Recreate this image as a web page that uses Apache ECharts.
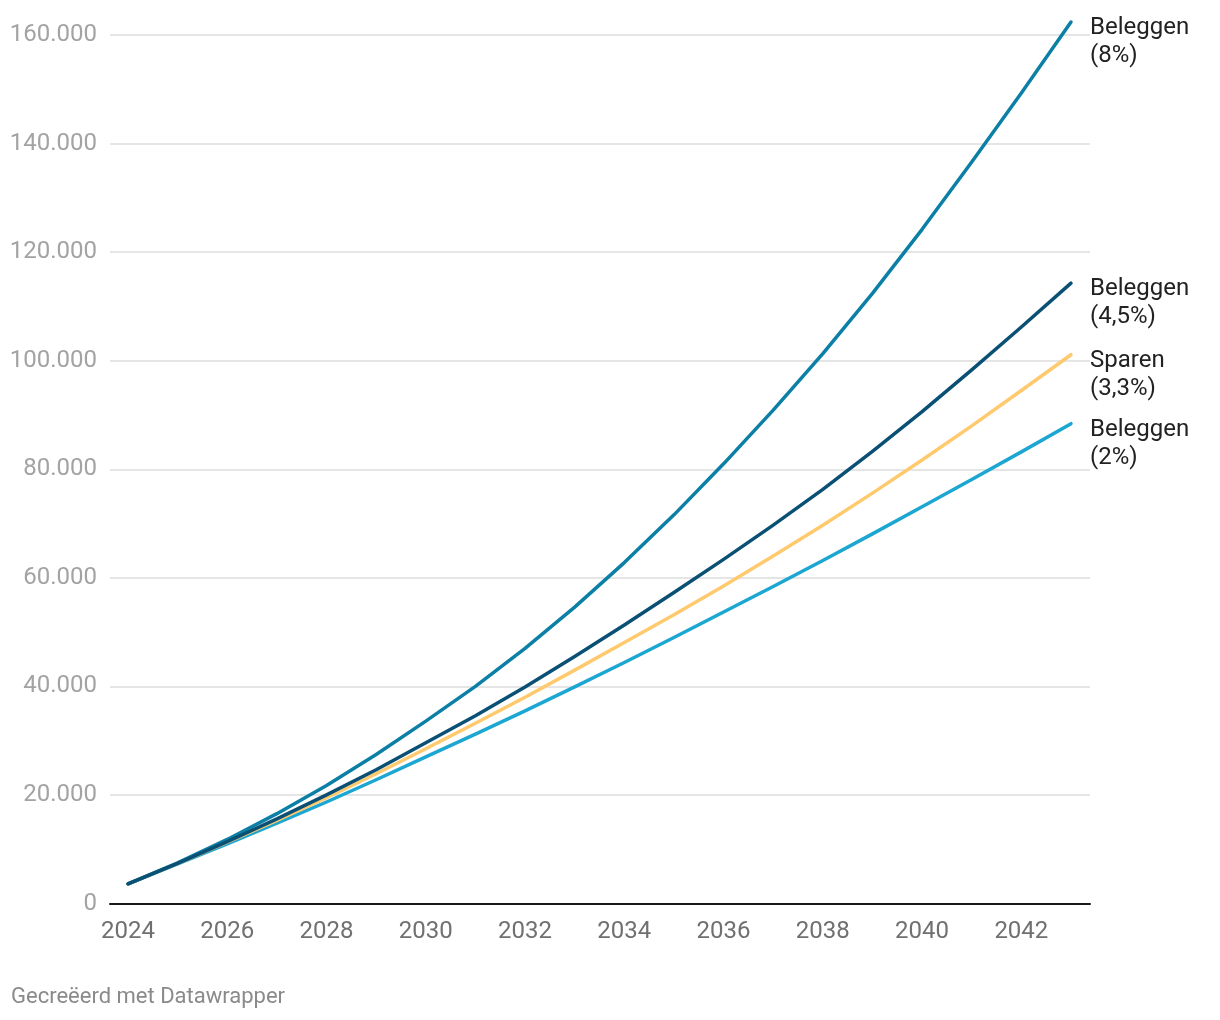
<!DOCTYPE html>
<html>
<head>
<meta charset="utf-8">
<script src="https://cdn.jsdelivr.net/npm/echarts@6/dist/echarts.min.js"></script>
<style>
  html, body { margin: 0; padding: 0; background: #ffffff; }
  #chart { width: 1220px; height: 1020px; }
</style>
</head>
<body>
<div id="chart"></div>
<script>
// ---- Data ----
const years = [2024, 2025, 2026, 2027, 2028, 2029, 2030, 2031, 2032, 2033,
               2034, 2035, 2036, 2037, 2038, 2039, 2040, 2041, 2042, 2043];

const beleggen8 = [3630, 7500, 11800, 16550, 21750, 27450, 33600, 40000, 47000, 54600,
                   62800, 71600, 81000, 90900, 101300, 112400, 124200, 136600, 149300, 162400];
const beleggen45 = [3630, 7400, 11400, 15600, 20000, 24650, 29600, 34600, 39900, 45500,
                    51300, 57300, 63400, 69700, 76300, 83300, 90600, 98300, 106200, 114300];
const sparen33 = [3630, 7400, 11300, 15300, 19500, 23900, 28500, 33200, 38000, 43000,
                  48100, 53200, 58500, 64000, 69700, 75600, 81700, 88000, 94500, 101100];
const beleggen2 = [3630, 7300, 11000, 14800, 18700, 22800, 27000, 31200, 35500, 39900,
                   44400, 49000, 53700, 58400, 63200, 68100, 73100, 78100, 83200, 88400];

const seriesNames = ['Beleggen\n(2%)', 'Sparen\n(3,3%)', 'Beleggen\n(8%)', 'Beleggen\n(4,5%)'];
const seriesValues = [beleggen2, sparen33, beleggen8, beleggen45];
const seriesColors = ['#1ca6d2', '#ffca6e', '#0b7fa5', '#0a5075'];

const xTickLabels = [2024, 2026, 2028, 2030, 2032, 2034, 2036, 2038, 2040, 2042];
const yTickInterval = 20000;
const yMax = 160000;
const footerText = 'Gecreëerd met Datawrapper';

// ---- Chart ----
const FONT = 'Roboto, "Noto Sans", sans-serif';
function dotThousands(v) {
  return String(v).replace(/\B(?=(\d{3})+(?!\d))/g, '.');
}

const chart = echarts.init(document.getElementById('chart'), null, { renderer: 'canvas' });

const series = seriesValues.map((vals, i) => ({
  name: seriesNames[i],
  type: 'line',
  data: years.map((y, j) => [y, vals[j]]),
  showSymbol: false,
  symbol: 'none',
  smooth: false,
  clip: false,
  lineStyle: { color: seriesColors[i], width: 3.5, cap: 'round', join: 'round' },
  itemStyle: { color: seriesColors[i] },
  endLabel: {
    show: true,
    formatter: seriesNames[i],
    distance: 19,
    align: 'left',
    verticalAlign: 'middle',
    offset: [0, 20],
    color: '#222222',
    fontFamily: FONT,
    fontSize: 24,
    lineHeight: 28
  },
  emphasis: { disabled: true },
  z: 2 + i
}));

chart.setOption({
  animation: false,
  backgroundColor: '#ffffff',
  textStyle: { fontFamily: FONT },
  grid: { left: 110, right: 130, top: 35, bottom: 116.5, containLabel: false },
  xAxis: {
    type: 'value',
    min: 2023.637,
    max: 2043.383,
    axisLine: { show: true, onZero: false, lineStyle: { color: '#1a1a1a', width: 2 } },
    axisTick: { show: false },
    splitLine: { show: false },
    axisLabel: {
      customValues: xTickLabels,
      formatter: v => String(v),
      color: '#707070',
      fontFamily: FONT,
      fontSize: 24,
      margin: 16
    }
  },
  yAxis: {
    type: 'value',
    min: 0,
    max: yMax,
    interval: yTickInterval,
    axisLine: { show: false },
    axisTick: { show: false },
    splitLine: { show: true, lineStyle: { color: '#e5e5e5', width: 2 } },
    axisLabel: {
      formatter: v => dotThousands(v),
      color: '#a3a3a3',
      fontFamily: FONT,
      fontSize: 24,
      margin: 13
    }
  },
  graphic: [{
    type: 'text',
    left: 11,
    top: 986,
    style: { text: footerText, fill: '#8a8a8a', font: '22px ' + FONT }
  }],
  series: series
});
</script>
</body>
</html>
